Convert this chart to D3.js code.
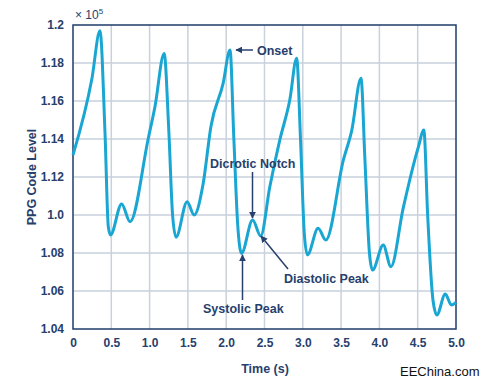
<!DOCTYPE html>
<html><head><meta charset="utf-8">
<script src="https://cdn.jsdelivr.net/npm/d3@7"></script>
<style>body{margin:0;background:#fff}svg{display:block}</style>
</head><body>
<script>
const times = [0,0.248,0.352,0.418,0.461,0.49,0.635,0.744,0.983,1.07,1.19,1.25,1.30,1.345,1.49,1.58,1.70,1.80,1.96,2.05,2.10,2.15,2.20,2.345,2.45,2.57,2.70,2.83,2.92,2.97,3.02,3.06,3.20,3.30,3.53,3.64,3.76,3.81,3.87,3.91,4.05,4.15,4.31,4.51,4.58,4.63,4.70,4.75,4.86,4.94,5.0];
const values = [1.1316,1.172,1.197,1.143,1.0938,1.0895,1.1058,1.0965,1.1404,1.157,1.185,1.145,1.100,1.0883,1.107,1.100,1.1167,1.1465,1.1693,1.1868,1.140,1.095,1.0798,1.0974,1.089,1.115,1.1395,1.1605,1.1825,1.140,1.090,1.079,1.093,1.0868,1.129,1.1447,1.172,1.130,1.080,1.071,1.0842,1.0728,1.1035,1.136,1.1447,1.100,1.055,1.0474,1.0584,1.0526,1.054];
const xTicks = [0,0.5,1.0,1.5,2.0,2.5,3.0,3.5,4.0,4.5,5.0];
const xTickLabels = ["0","0.5","1.0","1.5","2.0","2.5","3.0","3.5","4.0","4.5","5.0"];
const yTicks = [1.04,1.06,1.08,1.10,1.12,1.14,1.16,1.18,1.20];
const yTickLabels = ["1.04","1.06","1.08","1.0","1.12","1.14","1.16","1.18","1.2"];

const W=482,H=383;
const navy="#27406c", frame="#1f3d6b", grid="#c9d1dc", lineC="#19a6d2";
const svg=d3.select("body").append("svg").attr("width",W).attr("height",H);
const x=d3.scaleLinear().domain([0,5]).range([73,456]);
const y=d3.scaleLinear().domain([1.04,1.2]).range([329,25]);

const defs=svg.append("defs");
defs.append("marker").attr("id","ah").attr("viewBox","0 0 10 10").attr("refX",9).attr("refY",5)
 .attr("markerWidth",7).attr("markerHeight",7).attr("orient","auto-start-reverse").attr("markerUnits","userSpaceOnUse")
 .append("path").attr("d","M0,0L10,5L0,10z").attr("fill",navy);

// grid
svg.append("g").selectAll("line").data(xTicks.slice(1,-1)).join("line")
 .attr("x1",d=>x(d)).attr("x2",d=>x(d)).attr("y1",25).attr("y2",329).attr("stroke",grid).attr("stroke-width",1.5);
svg.append("g").selectAll("line").data(yTicks.slice(1,-1)).join("line")
 .attr("y1",d=>y(d)).attr("y2",d=>y(d)).attr("x1",73).attr("x2",456).attr("stroke",grid).attr("stroke-width",1.5);

// axes labels via d3 axes
const xa=svg.append("g").attr("transform","translate(0,329)")
 .call(d3.axisBottom(x).tickValues(xTicks).tickFormat((d,i)=>xTickLabels[i]).tickSize(0).tickPadding(9));
const ya=svg.append("g").attr("transform","translate(73,0)")
 .call(d3.axisLeft(y).tickValues(yTicks).tickFormat((d,i)=>yTickLabels[i]).tickSize(0).tickPadding(9));
[xa,ya].forEach(g=>{g.select(".domain").remove();g.selectAll("text").attr("fill",navy)
 .style("font-family","Liberation Sans, Arial, sans-serif").style("font-weight","bold").style("font-size","12px");});

// frame
svg.append("rect").attr("x",73).attr("y",25).attr("width",383).attr("height",304)
 .attr("fill","none").attr("stroke",frame).attr("stroke-width",1.5);

// line
const line=d3.line().x((d,i)=>x(times[i])).y(d=>y(d)).curve(d3.curveMonotoneX);
svg.append("path").attr("d",line(values)).attr("fill","none").attr("stroke",lineC)
 .attr("stroke-width",3).attr("stroke-linejoin","round");

const tstyle=s=>s.attr("fill",navy).style("font-family","Liberation Sans, Arial, sans-serif").style("font-weight","bold");

// multiplier
const m=svg.append("text").attr("x",75).attr("y",19).call(tstyle).style("font-size","12px").style("font-weight","normal");
m.append("tspan").text("× 10");
m.append("tspan").text("5").attr("dy",-5).style("font-size","8px");

// axis titles
svg.append("text").attr("transform","translate(36,177) rotate(-90)").attr("text-anchor","middle")
 .call(tstyle).style("font-size","12.5px").text("PPG Code Level");
svg.append("text").attr("x",265).attr("y",373).attr("text-anchor","middle").call(tstyle).style("font-size","12.5px").text("Time (s)");
svg.append("text").attr("x",400).attr("y",376).attr("fill","#111").style("font-family","Liberation Sans, Arial, sans-serif")
 .style("font-size","13px").text("EEChina.com");

// annotations
const arrow=(x1,y1,x2,y2)=>svg.append("line").attr("x1",x1).attr("y1",y1).attr("x2",x2).attr("y2",y2)
 .attr("stroke",navy).attr("stroke-width",1.5).attr("marker-end","url(#ah)");
const ann=(t,xx,yy)=>svg.append("text").attr("x",xx).attr("y",yy).call(tstyle).style("font-size","12.5px").text(t);
ann("Onset",257,55); arrow(253,50,236,50);
ann("Dicrotic Notch",210,168); arrow(252.5,172,252.5,218);
ann("Systolic Peak",203,313); arrow(242.5,300,242.5,255);
ann("Diastolic Peak",284,283); arrow(288,269,261,236);
</script>
</body></html>
